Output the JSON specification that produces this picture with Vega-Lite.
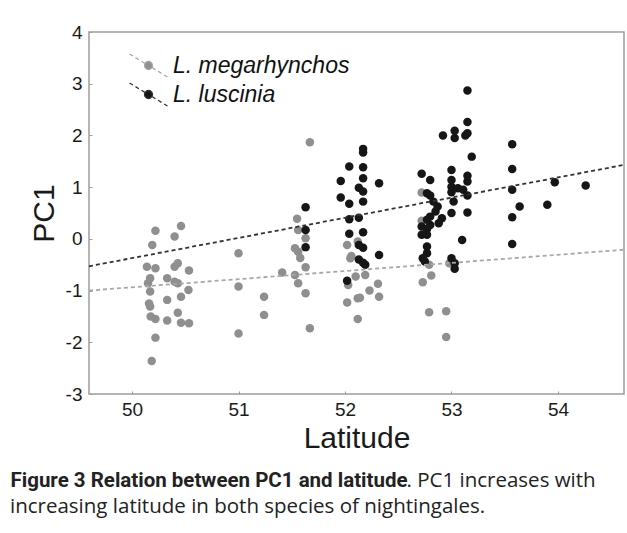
{
  "$schema": "https://vega.github.io/schema/vega-lite/v6.json",
  "width": 535,
  "height": 362,
  "autosize": {"type": "none"},
  "padding": {"left": 89, "top": 32, "right": 3, "bottom": 139},
  "background": "white",
  "config": {"view": {"stroke": "#9d9d9d", "strokeWidth": 1.5}},
  "datasets": {
    "points": [
      {"lat": 50.22, "pc1": 0.155, "species": "L. megarhynchos"},
      {"lat": 50.46, "pc1": 0.25, "species": "L. megarhynchos"},
      {"lat": 50.40, "pc1": 0.045, "species": "L. megarhynchos"},
      {"lat": 50.19, "pc1": -0.12, "species": "L. megarhynchos"},
      {"lat": 50.14, "pc1": -0.54, "species": "L. megarhynchos"},
      {"lat": 50.22, "pc1": -0.57, "species": "L. megarhynchos"},
      {"lat": 50.40, "pc1": -0.54, "species": "L. megarhynchos"},
      {"lat": 50.43, "pc1": -0.47, "species": "L. megarhynchos"},
      {"lat": 50.535, "pc1": -0.61, "species": "L. megarhynchos"},
      {"lat": 50.17, "pc1": -0.76, "species": "L. megarhynchos"},
      {"lat": 50.33, "pc1": -0.76, "species": "L. megarhynchos"},
      {"lat": 50.40, "pc1": -0.83, "species": "L. megarhynchos"},
      {"lat": 50.43, "pc1": -0.86, "species": "L. megarhynchos"},
      {"lat": 50.15, "pc1": -0.86, "species": "L. megarhynchos"},
      {"lat": 50.17, "pc1": -1.02, "species": "L. megarhynchos"},
      {"lat": 50.53, "pc1": -0.99, "species": "L. megarhynchos"},
      {"lat": 50.46, "pc1": -1.12, "species": "L. megarhynchos"},
      {"lat": 50.33, "pc1": -1.18, "species": "L. megarhynchos"},
      {"lat": 50.16, "pc1": -1.25, "species": "L. megarhynchos"},
      {"lat": 50.17, "pc1": -1.31, "species": "L. megarhynchos"},
      {"lat": 50.43, "pc1": -1.43, "species": "L. megarhynchos"},
      {"lat": 50.175, "pc1": -1.50, "species": "L. megarhynchos"},
      {"lat": 50.22, "pc1": -1.55, "species": "L. megarhynchos"},
      {"lat": 50.33, "pc1": -1.58, "species": "L. megarhynchos"},
      {"lat": 50.46, "pc1": -1.62, "species": "L. megarhynchos"},
      {"lat": 50.535, "pc1": -1.63, "species": "L. megarhynchos"},
      {"lat": 50.22, "pc1": -1.91, "species": "L. megarhynchos"},
      {"lat": 50.185, "pc1": -2.36, "species": "L. megarhynchos"},
      {"lat": 51.0, "pc1": -0.28, "species": "L. megarhynchos"},
      {"lat": 51.0, "pc1": -0.92, "species": "L. megarhynchos"},
      {"lat": 51.0, "pc1": -1.83, "species": "L. megarhynchos"},
      {"lat": 51.24, "pc1": -1.12, "species": "L. megarhynchos"},
      {"lat": 51.24, "pc1": -1.47, "species": "L. megarhynchos"},
      {"lat": 51.41, "pc1": -0.65, "species": "L. megarhynchos"},
      {"lat": 51.67, "pc1": 1.87, "species": "L. megarhynchos"},
      {"lat": 51.55, "pc1": 0.39, "species": "L. megarhynchos"},
      {"lat": 51.56, "pc1": 0.17, "species": "L. megarhynchos"},
      {"lat": 51.63, "pc1": 0.01, "species": "L. megarhynchos"},
      {"lat": 51.53, "pc1": -0.18, "species": "L. megarhynchos"},
      {"lat": 51.56, "pc1": -0.25, "species": "L. megarhynchos"},
      {"lat": 51.58, "pc1": -0.37, "species": "L. megarhynchos"},
      {"lat": 51.63, "pc1": -0.55, "species": "L. megarhynchos"},
      {"lat": 51.53, "pc1": -0.70, "species": "L. megarhynchos"},
      {"lat": 51.56, "pc1": -0.86, "species": "L. megarhynchos"},
      {"lat": 51.63, "pc1": -1.05, "species": "L. megarhynchos"},
      {"lat": 51.67, "pc1": -1.73, "species": "L. megarhynchos"},
      {"lat": 52.02, "pc1": -0.12, "species": "L. megarhynchos"},
      {"lat": 52.06, "pc1": -0.33, "species": "L. megarhynchos"},
      {"lat": 52.05, "pc1": -0.375, "species": "L. megarhynchos"},
      {"lat": 52.12, "pc1": -0.05, "species": "L. megarhynchos"},
      {"lat": 52.10, "pc1": -0.73, "species": "L. megarhynchos"},
      {"lat": 52.19, "pc1": -0.70, "species": "L. megarhynchos"},
      {"lat": 52.03, "pc1": -0.89, "species": "L. megarhynchos"},
      {"lat": 52.31, "pc1": -0.87, "species": "L. megarhynchos"},
      {"lat": 52.23, "pc1": -1.0, "species": "L. megarhynchos"},
      {"lat": 52.32, "pc1": -1.12, "species": "L. megarhynchos"},
      {"lat": 52.02, "pc1": -1.23, "species": "L. megarhynchos"},
      {"lat": 52.12, "pc1": -1.15, "species": "L. megarhynchos"},
      {"lat": 52.14, "pc1": -1.14, "species": "L. megarhynchos"},
      {"lat": 52.12, "pc1": -1.55, "species": "L. megarhynchos"},
      {"lat": 52.72, "pc1": 0.895, "species": "L. megarhynchos"},
      {"lat": 52.72, "pc1": 0.35, "species": "L. megarhynchos"},
      {"lat": 52.79, "pc1": -0.50, "species": "L. megarhynchos"},
      {"lat": 52.98, "pc1": -0.47, "species": "L. megarhynchos"},
      {"lat": 52.81, "pc1": -0.71, "species": "L. megarhynchos"},
      {"lat": 52.73, "pc1": -0.84, "species": "L. megarhynchos"},
      {"lat": 52.79, "pc1": -1.42, "species": "L. megarhynchos"},
      {"lat": 52.95, "pc1": -1.40, "species": "L. megarhynchos"},
      {"lat": 52.95, "pc1": -1.90, "species": "L. megarhynchos"},
      {"lat": 51.63, "pc1": 0.61, "species": "L. luscinia"},
      {"lat": 51.63, "pc1": 0.17, "species": "L. luscinia"},
      {"lat": 51.63, "pc1": -0.16, "species": "L. luscinia"},
      {"lat": 52.17, "pc1": 1.74, "species": "L. luscinia"},
      {"lat": 52.17, "pc1": 1.67, "species": "L. luscinia"},
      {"lat": 52.04, "pc1": 1.40, "species": "L. luscinia"},
      {"lat": 52.17, "pc1": 1.385, "species": "L. luscinia"},
      {"lat": 51.96, "pc1": 1.12, "species": "L. luscinia"},
      {"lat": 52.17, "pc1": 1.17, "species": "L. luscinia"},
      {"lat": 52.32, "pc1": 1.075, "species": "L. luscinia"},
      {"lat": 52.13, "pc1": 0.99, "species": "L. luscinia"},
      {"lat": 52.17, "pc1": 0.915, "species": "L. luscinia"},
      {"lat": 51.96, "pc1": 0.80, "species": "L. luscinia"},
      {"lat": 52.04, "pc1": 0.68, "species": "L. luscinia"},
      {"lat": 52.17, "pc1": 0.72, "species": "L. luscinia"},
      {"lat": 52.13, "pc1": 0.41, "species": "L. luscinia"},
      {"lat": 52.04, "pc1": 0.38, "species": "L. luscinia"},
      {"lat": 52.04, "pc1": 0.10, "species": "L. luscinia"},
      {"lat": 52.17, "pc1": 0.13, "species": "L. luscinia"},
      {"lat": 52.13, "pc1": -0.12, "species": "L. luscinia"},
      {"lat": 52.17, "pc1": -0.17, "species": "L. luscinia"},
      {"lat": 52.13, "pc1": -0.40, "species": "L. luscinia"},
      {"lat": 52.17, "pc1": -0.46, "species": "L. luscinia"},
      {"lat": 52.19, "pc1": -0.50, "species": "L. luscinia"},
      {"lat": 52.32, "pc1": -0.31, "species": "L. luscinia"},
      {"lat": 52.02, "pc1": -0.81, "species": "L. luscinia"},
      {"lat": 53.15, "pc1": 2.87, "species": "L. luscinia"},
      {"lat": 53.15, "pc1": 2.26, "species": "L. luscinia"},
      {"lat": 53.03, "pc1": 2.09, "species": "L. luscinia"},
      {"lat": 53.03, "pc1": 1.95, "species": "L. luscinia"},
      {"lat": 52.92, "pc1": 2.00, "species": "L. luscinia"},
      {"lat": 53.15, "pc1": 2.04, "species": "L. luscinia"},
      {"lat": 53.13, "pc1": 2.00, "species": "L. luscinia"},
      {"lat": 53.19, "pc1": 1.59, "species": "L. luscinia"},
      {"lat": 53.00, "pc1": 1.33, "species": "L. luscinia"},
      {"lat": 52.72, "pc1": 1.26, "species": "L. luscinia"},
      {"lat": 52.80, "pc1": 1.14, "species": "L. luscinia"},
      {"lat": 53.15, "pc1": 1.22, "species": "L. luscinia"},
      {"lat": 53.00, "pc1": 1.14, "species": "L. luscinia"},
      {"lat": 53.00, "pc1": 1.01, "species": "L. luscinia"},
      {"lat": 53.00, "pc1": 0.90, "species": "L. luscinia"},
      {"lat": 53.02, "pc1": 0.72, "species": "L. luscinia"},
      {"lat": 53.15, "pc1": 1.11, "species": "L. luscinia"},
      {"lat": 53.11, "pc1": 0.95, "species": "L. luscinia"},
      {"lat": 53.15, "pc1": 0.84, "species": "L. luscinia"},
      {"lat": 53.06, "pc1": 0.98, "species": "L. luscinia"},
      {"lat": 52.77, "pc1": 0.88, "species": "L. luscinia"},
      {"lat": 52.80, "pc1": 0.84, "species": "L. luscinia"},
      {"lat": 52.83, "pc1": 0.72, "species": "L. luscinia"},
      {"lat": 52.87, "pc1": 0.625, "species": "L. luscinia"},
      {"lat": 52.85, "pc1": 0.53, "species": "L. luscinia"},
      {"lat": 52.80, "pc1": 0.43, "species": "L. luscinia"},
      {"lat": 52.91, "pc1": 0.40, "species": "L. luscinia"},
      {"lat": 53.00, "pc1": 0.50, "species": "L. luscinia"},
      {"lat": 53.15, "pc1": 0.51, "species": "L. luscinia"},
      {"lat": 52.77, "pc1": 0.37, "species": "L. luscinia"},
      {"lat": 52.80, "pc1": 0.27, "species": "L. luscinia"},
      {"lat": 52.88, "pc1": 0.30, "species": "L. luscinia"},
      {"lat": 52.72, "pc1": 0.24, "species": "L. luscinia"},
      {"lat": 52.77, "pc1": 0.19, "species": "L. luscinia"},
      {"lat": 52.72, "pc1": 0.08, "species": "L. luscinia"},
      {"lat": 52.77, "pc1": 0.08, "species": "L. luscinia"},
      {"lat": 53.10, "pc1": -0.02, "species": "L. luscinia"},
      {"lat": 52.77, "pc1": -0.15, "species": "L. luscinia"},
      {"lat": 52.77, "pc1": -0.28, "species": "L. luscinia"},
      {"lat": 52.73, "pc1": -0.375, "species": "L. luscinia"},
      {"lat": 52.75, "pc1": -0.44, "species": "L. luscinia"},
      {"lat": 53.00, "pc1": -0.375, "species": "L. luscinia"},
      {"lat": 53.03, "pc1": -0.47, "species": "L. luscinia"},
      {"lat": 53.03, "pc1": -0.58, "species": "L. luscinia"},
      {"lat": 53.57, "pc1": 1.83, "species": "L. luscinia"},
      {"lat": 53.57, "pc1": 1.35, "species": "L. luscinia"},
      {"lat": 53.57, "pc1": 0.95, "species": "L. luscinia"},
      {"lat": 53.64, "pc1": 0.625, "species": "L. luscinia"},
      {"lat": 53.57, "pc1": 0.42, "species": "L. luscinia"},
      {"lat": 53.57, "pc1": -0.10, "species": "L. luscinia"},
      {"lat": 53.97, "pc1": 1.095, "species": "L. luscinia"},
      {"lat": 53.90, "pc1": 0.66, "species": "L. luscinia"},
      {"lat": 54.26, "pc1": 1.03, "species": "L. luscinia"}
    ],
    "lines": [
      {"lat": 49.596, "pc1": -1.0, "species": "L. megarhynchos"},
      {"lat": 54.62, "pc1": -0.21, "species": "L. megarhynchos"},
      {"lat": 49.596, "pc1": -0.53, "species": "L. luscinia"},
      {"lat": 54.62, "pc1": 1.43, "species": "L. luscinia"}
    ]
  },
  "title": {
    "text": "increasing latitude in both species of nightingales.",
    "orient": "bottom",
    "anchor": "start",
    "frame": "group",
    "dx": -79,
    "offset": 6,
    "font": "Open Sans",
    "fontSize": 20.5,
    "fontWeight": "normal",
    "color": "#222222"
  },
  "layer": [
    {
      "data": {"name": "points"},
      "mark": {"type": "circle", "size": 72, "opacity": 1},
      "encoding": {
        "x": {
          "field": "lat", "type": "quantitative",
          "scale": {"domain": [49.596, 54.62], "nice": false, "zero": false},
          "axis": {
            "orient": "bottom", "title": "Latitude", "values": [50, 51, 52, 53, 54],
            "grid": false, "domain": false, "tickSize": -3, "tickColor": "#9d9d9d",
            "labelFont": "Liberation Sans", "labelFontSize": 19, "labelColor": "#1a1a1a", "labelPadding": 9,
            "titleFont": "Liberation Sans", "titleFontSize": 30, "titleFontWeight": "normal", "titleColor": "#1a1a1a", "titlePadding": 4
          }
        },
        "y": {
          "field": "pc1", "type": "quantitative",
          "scale": {"domain": [-3, 4], "nice": false, "zero": false},
          "axis": {
            "orient": "left", "title": "PC1", "values": [-3, -2, -1, 0, 1, 2, 3, 4],
            "grid": false, "domain": false, "tickSize": -3, "tickColor": "#9d9d9d",
            "labelExpr": "datum.value < 0 ? '-' + format(-datum.value, 'd') : datum.label",
            "labelFont": "Liberation Sans", "labelFontSize": 19, "labelColor": "#1a1a1a", "labelPadding": 10,
            "titleFont": "Liberation Sans", "titleFontSize": 30, "titleFontWeight": "normal", "titleColor": "#1a1a1a", "titlePadding": 6
          }
        },
        "color": {
          "field": "species", "type": "nominal",
          "scale": {"domain": ["L. megarhynchos", "L. luscinia"], "range": ["#8f8f8f", "#161616"]},
          "legend": {
            "orient": "none", "legendX": 48, "legendY": 22, "title": null, "padding": 0,
            "symbolType": "M-1.9,-1.15L-1.56,-0.944M-1.3,-0.787L-0.96,-0.581M-0.7,-0.424L-0.4,-0.242M0.4,0.242L0.7,0.424M0.96,0.581L1.3,0.787M1.56,0.944L1.9,1.15M0.4,0A0.4,0.4,0,1,1,-0.4,0A0.4,0.4,0,1,1,0.4,0Z",
            "symbolSize": 400, "symbolStrokeWidth": 1.3, "symbolOpacity": 1,
            "labelFont": "Liberation Sans", "labelFontStyle": "italic", "labelFontSize": 23, "labelColor": "#111111",
            "labelOffset": 13, "rowPadding": 0, "labelLimit": 0,
            "encode": {"symbols": {"update": {"stroke": {"scale": "color", "field": "value"}, "strokeWidth": {"value": 1.3}}}}
          }
        }
      }
    },
    {
      "data": {"name": "lines"},
      "mark": {"type": "line", "strokeDash": [4, 3], "strokeWidth": 1.8},
      "encoding": {
        "x": {
          "field": "lat", "type": "quantitative",
          "axis": {
            "orient": "bottom", "title": "Figure 3 Relation between PC1 and latitude",
            "domain": false, "ticks": false, "labels": false, "grid": false,
            "titleX": -79, "titleY": 92, "titleAlign": "left", "titleAngle": 0, "titleBaseline": "alphabetic",
            "titleFont": "Roboto", "titleFontSize": 20.5, "titleFontWeight": "bold", "titleColor": "#222222", "titleLimit": 0
          }
        },
        "y": {
          "field": "pc1", "type": "quantitative",
          "axis": {
            "orient": "right", "title": ". PC1 increases with",
            "domain": false, "ticks": false, "labels": false, "grid": false,
            "titleX": -218, "titleY": 454, "titleAlign": "left", "titleAngle": 0, "titleBaseline": "alphabetic",
            "titleFont": "Open Sans", "titleFontSize": 20.5, "titleFontWeight": "normal", "titleColor": "#222222", "titleLimit": 0
          }
        },
        "stroke": {
          "field": "species", "type": "nominal",
          "scale": {"domain": ["L. megarhynchos", "L. luscinia"], "range": ["#a8a8a8", "#333333"]},
          "legend": null
        }
      }
    }
  ],
  "resolve": {"axis": {"x": "independent", "y": "independent"}}
}
